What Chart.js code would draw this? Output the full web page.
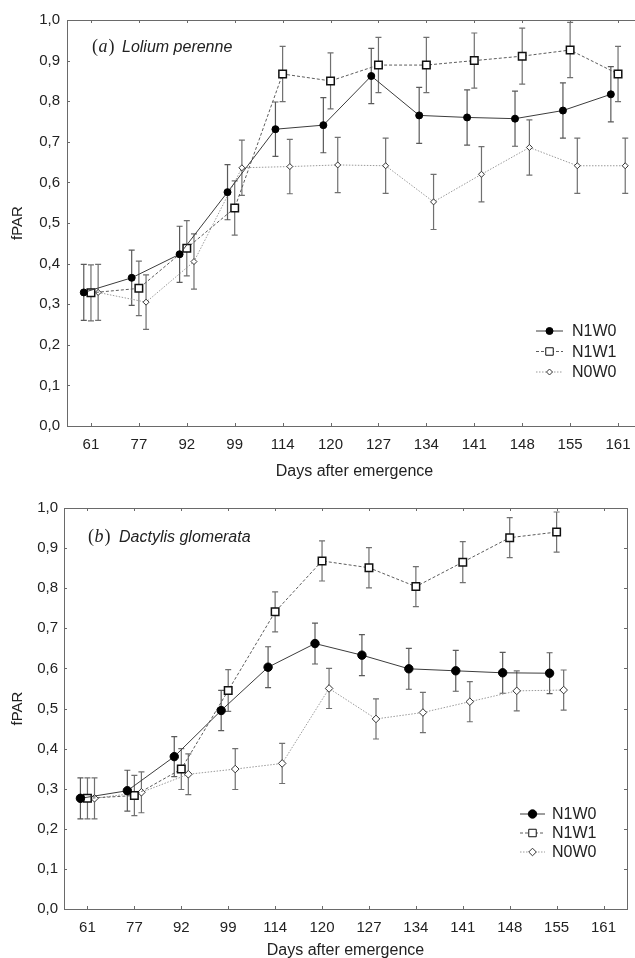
<!DOCTYPE html>
<html>
<head>
<meta charset="utf-8">
<script src="https://cdn.jsdelivr.net/npm/chart.js@4.4.1/dist/chart.umd.min.js"></script>
<style>
  html, body { margin: 0; padding: 0; background: #fff; overflow: hidden; }
  #wrap { position: relative; width: 635px; height: 958px; overflow: hidden; }
  #boxA { position: absolute; left: 0; top: 0; }
  #boxB { position: absolute; left: 0; top: 480px; }
</style>
</head>
<body>
<div id="wrap">
  <div id="boxA"><canvas id="chartA" width="660" height="480"></canvas></div>
  <div id="boxB"><canvas id="chartB" width="635" height="478"></canvas></div>
</div>
<script>
/* ---- dane ---- */
const days = ['61', '77', '92', '99', '114', '120', '127', '134', '141', '148', '155', '161'];

// (a) Lolium perenne
const loliumN1W0 = [0.329, 0.365, 0.423, 0.576, 0.731, 0.741, 0.862, 0.765, 0.760, 0.757, 0.777, 0.817];
const loliumN1W1 = [0.328, 0.339, 0.438, 0.537, 0.867, 0.850, 0.889, 0.889, 0.900, 0.911, 0.926, 0.867];
const loliumN0W0 = [0.329, 0.305, 0.405, 0.636, 0.639, 0.643, 0.641, 0.552, 0.620, 0.686, 0.641, 0.641];
const loliumErrN1W0 = [0.069, 0.068, 0.069, 0.068, 0.067, 0.068, 0.068, 0.069, 0.068, 0.068, 0.068, 0.068];
const loliumErrN1W1 = [0.069, 0.067, 0.068, 0.067, 0.068, 0.069, 0.068, 0.068, 0.068, 0.069, 0.068, 0.068];
const loliumErrN0W0 = [0.069, 0.067, 0.068, 0.068, 0.067, 0.068, 0.068, 0.068, 0.068, 0.068, 0.068, 0.068];

// (b) Dactylis glomerata (no measurement at day 161)
const dactylisN1W0 = [0.276, 0.295, 0.380, 0.495, 0.603, 0.662, 0.633, 0.599, 0.594, 0.589, 0.588];
const dactylisN1W1 = [0.276, 0.283, 0.349, 0.545, 0.741, 0.868, 0.851, 0.804, 0.865, 0.926, 0.940];
const dactylisN0W0 = [0.276, 0.291, 0.336, 0.349, 0.363, 0.550, 0.474, 0.490, 0.517, 0.544, 0.546];
const dactylisErrN1W0 = [0.051, 0.051, 0.050, 0.050, 0.051, 0.051, 0.051, 0.051, 0.051, 0.051, 0.051];
const dactylisErrN1W1 = [0.051, 0.050, 0.051, 0.052, 0.050, 0.050, 0.050, 0.050, 0.051, 0.050, 0.050];
const dactylisErrN0W0 = [0.051, 0.051, 0.051, 0.051, 0.050, 0.050, 0.050, 0.050, 0.050, 0.050, 0.050];

const yTicks = [0, 0.1, 0.2, 0.3, 0.4, 0.5, 0.6, 0.7, 0.8, 0.9, 1.0];

/* ---- wtyczki ---- */
const errorBars = {
    id: 'errorBars',
    beforeDatasetsDraw(chart) {
        const ctx = chart.ctx;
        const ys = chart.scales.y;
        chart.data.datasets.forEach((ds, i) => {
            const meta = chart.getDatasetMeta(i);
            ctx.save();
            ctx.strokeStyle = ds.errColor;
            ctx.lineWidth = 1.2;
            meta.data.forEach((pt, j) => {
                const v = ds.data[j].y, e = ds.err[j];
                const y1 = ys.getPixelForValue(v + e);
                const y2 = ys.getPixelForValue(v - e);
                ctx.beginPath();
                ctx.moveTo(pt.x, y1); ctx.lineTo(pt.x, y2);
                ctx.moveTo(pt.x - 3, y1); ctx.lineTo(pt.x + 3, y1);
                ctx.moveTo(pt.x - 3, y2); ctx.lineTo(pt.x + 3, y2);
                ctx.stroke();
            });
            ctx.restore();
        });
    }
};

const frame = {
    id: 'frame',
    beforeDatasetsDraw(chart) {
        const { ctx, chartArea: a, scales } = chart;
        ctx.save();
        ctx.strokeStyle = '#6a6a6a';
        ctx.lineWidth = 1;
        ctx.strokeRect(a.left + 0.5, a.top + 0.5, a.right - a.left, a.bottom - a.top);
        ctx.beginPath();
        days.forEach((d, i) => {
            const x = Math.round(scales.x.getPixelForValue(i)) + 0.5;
            ctx.moveTo(x, a.top); ctx.lineTo(x, a.top + 3);
            ctx.moveTo(x, a.bottom); ctx.lineTo(x, a.bottom - 3);
        });
        yTicks.forEach(v => {
            const y = Math.round(scales.y.getPixelForValue(v)) + 0.5;
            ctx.moveTo(a.left, y); ctx.lineTo(a.left + 3, y);
            ctx.moveTo(a.right, y); ctx.lineTo(a.right - 3, y);
        });
        ctx.stroke();
        ctx.restore();
    }
};

const panel = {
    id: 'panel',
    afterDraw(chart, args, opts) {
        const { ctx, chartArea: a } = chart;
        ctx.save();
        ctx.fillStyle = '#222';
        ctx.textBaseline = 'alphabetic';
        // podpis panelu
        let x = a.left + opts.tagX, y = a.top + opts.tagY;
        ctx.font = '18px "Liberation Serif"';
        ctx.fillText('(', x, y); x += ctx.measureText('(').width + 0.5;
        ctx.font = 'italic 18px "Liberation Serif"';
        ctx.fillText(opts.tag, x, y); x += ctx.measureText(opts.tag).width + 1;
        ctx.font = '18px "Liberation Serif"';
        ctx.fillText(')', x, y);
        ctx.font = 'italic 16px "Liberation Sans"';
        ctx.fillText(opts.species, a.left + opts.speciesX, y);

        // legenda
        ctx.font = '16px "Liberation Sans"';
        chart.data.datasets.forEach((ds, i) => {
            const ly = a.top + opts.legY + i * opts.legGap;
            const lx = a.left + opts.legX;
            ctx.save();
            ctx.strokeStyle = ds.borderColor;
            ctx.lineWidth = ds.borderWidth;
            ctx.setLineDash(ds.borderDash || []);
            ctx.beginPath();
            ctx.moveTo(lx, ly); ctx.lineTo(lx + opts.legLen, ly);
            ctx.stroke();
            ctx.restore();
            ctx.save();
            ctx.fillStyle = ds.pointBackgroundColor;
            ctx.strokeStyle = ds.pointBorderColor;
            Chart.helpers.drawPoint(ctx, {
                pointStyle: ds.pointStyle,
                radius: ds.pointRadius,
                rotation: 0,
                borderWidth: ds.pointBorderWidth
            }, lx + opts.legLen / 2, ly);
            ctx.restore();
            ctx.fillStyle = '#222';
            ctx.textBaseline = 'middle';
            ctx.fillText(ds.label, a.left + opts.legText, ly + 1);
        });
        ctx.restore();
    }
};

/* ---- budowa wykresu ---- */
function series(label, values, err, shift, style) {
    return Object.assign({
        label: label,
        data: values.map((v, i) => ({ x: i + shift, y: v })),
        err: err,
        tension: 0,
        borderWidth: 1
    }, style);
}

function makeChart(canvasId, datasets, cfg) {
    const ctx = document.getElementById(canvasId).getContext('2d');
    return new Chart(ctx, {
        type: 'line',
        data: { datasets: datasets },
        plugins: [frame, errorBars, panel],
        options: {
            responsive: false,
            animation: false,
            layout: { padding: { top: cfg.padTop, right: cfg.padRight, left: 0, bottom: 0 } },
            plugins: {
                legend: { display: false },
                tooltip: { enabled: false },
                panel: cfg.panel
            },
            scales: {
                x: {
                    type: 'linear',
                    min: -0.5,
                    max: 11.5,
                    afterBuildTicks: s => { s.ticks = days.map((d, i) => ({ value: i })); },
                    afterFit: s => { s.height = cfg.xHeight; },
                    grid: { display: false, drawTicks: false },
                    border: { display: false },
                    ticks: {
                        autoSkip: false, maxRotation: 0, padding: 10,
                        color: '#222',
                        font: { family: 'Liberation Sans', size: 15 },
                        callback: v => days[v]
                    },
                    title: {
                        display: true, text: 'Days after emergence', color: '#222',
                        font: { family: 'Liberation Sans', size: 16 },
                        padding: { top: 0, bottom: cfg.xTitlePad }
                    }
                },
                y: {
                    min: 0,
                    max: 1,
                    afterBuildTicks: s => { s.ticks = yTicks.map(v => ({ value: v })); },
                    afterFit: s => { s.width = cfg.yWidth; },
                    grid: { display: false, drawTicks: false },
                    border: { display: false },
                    ticks: {
                        padding: cfg.yTickPad,
                        color: '#222',
                        font: { family: 'Liberation Sans', size: 15 },
                        callback: v => v.toFixed(1).replace('.', ',')
                    },
                    title: {
                        display: true, text: 'fPAR', color: '#222',
                        font: { family: 'Liberation Sans', size: 15 },
                        padding: { top: 9, bottom: 0 }
                    }
                }
            }
        }
    });
}

const styleN1W0 = (r) => ({
    borderColor: '#3c3c3c', pointStyle: 'circle', pointRadius: r,
    pointBackgroundColor: '#000', pointBorderColor: '#000', pointBorderWidth: 1,
    errColor: '#5a5a5a'
});
const styleN1W1 = (r) => ({
    borderColor: '#5c5c5c', borderDash: [3, 2], pointStyle: 'rect', pointRadius: r,
    pointBackgroundColor: '#fff', pointBorderColor: '#111', pointBorderWidth: 1.5,
    errColor: '#707070'
});
const styleN0W0 = (r) => ({
    borderColor: '#9a9a9a', borderDash: [1.5, 1.5], pointStyle: 'rectRot', pointRadius: r,
    pointBackgroundColor: '#fff', pointBorderColor: '#333', pointBorderWidth: 1,
    errColor: '#707070'
});

makeChart('chartA', [
    series('N1W0', loliumN1W0, loliumErrN1W0, -0.15, styleN1W0(3.5)),
    series('N1W1', loliumN1W1, loliumErrN1W1, 0, styleN1W1(5.3)),
    series('N0W0', loliumN0W0, loliumErrN0W0, 0.15, styleN0W0(3))
], {
    padTop: 20, padRight: 18, xHeight: 54, yWidth: 67, yTickPad: 7, xTitlePad: -1,
    panel: {
        tag: 'a', species: 'Lolium perenne', tagX: 25, tagY: 32, speciesX: 55,
        legX: 469, legY: 311, legGap: 20.5, legLen: 27, legText: 505
    }
});

makeChart('chartB', [
    series('N1W0', dactylisN1W0, dactylisErrN1W0, -0.15, styleN1W0(4.2)),
    series('N1W1', dactylisN1W1, dactylisErrN1W1, 0, styleN1W1(5.3)),
    series('N0W0', dactylisN0W0, dactylisErrN0W0, 0.15, styleN0W0(3.8))
], {
    padTop: 28, padRight: 8, xHeight: 49, yWidth: 64, yTickPad: 6, xTitlePad: -2,
    panel: {
        tag: 'b', species: 'Dactylis glomerata', tagX: 24, tagY: 34, speciesX: 55,
        legX: 456, legY: 306, legGap: 19, legLen: 25, legText: 488
    }
});
</script>
</body>
</html>
